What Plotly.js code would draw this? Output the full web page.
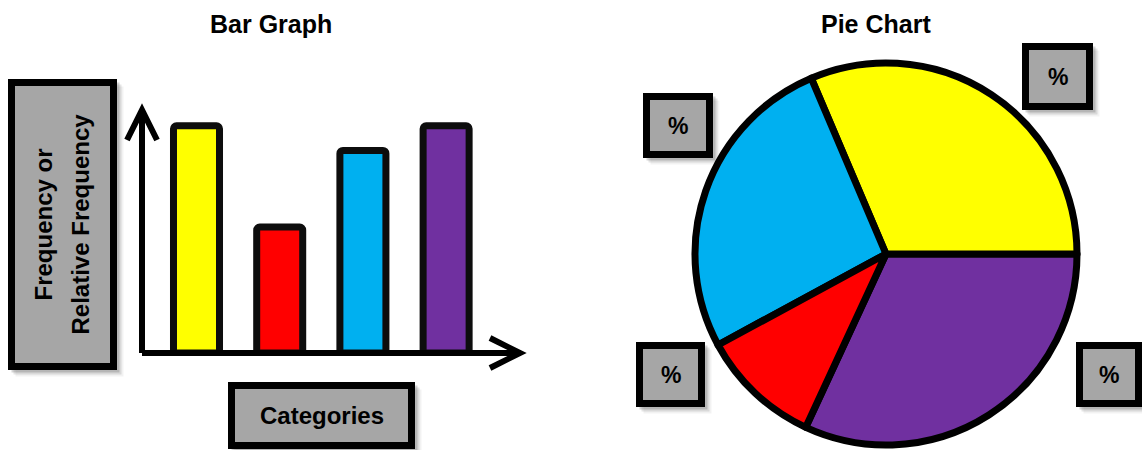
<!DOCTYPE html>
<html><head><meta charset="utf-8">
<script src="https://cdn.plot.ly/plotly-3.0.1.min.js"></script>
<style>html,body{margin:0;padding:0;background:#fff}#chart{width:1142px;height:450px}</style>
</head><body><div id="chart"></div>
<script>
// ---- data ----
const categories = ['Category 1', 'Category 2', 'Category 3', 'Category 4'];
const barValues = [9.2, 5.1, 8.2, 9.2];
const barColors = ['#FFFF00', '#FF0000', '#00B0F0', '#7030A0'];
// pie slices listed in drawing order (Plotly places the first slice so it ends at the rotation line)
const pieLabels = ['Category 4', 'Category 1', 'Category 3', 'Category 2'];
const pieValues = [31.9, 31.4, 26.5, 10.2];
const pieColors = ['#7030A0', '#FFFF00', '#00B0F0', '#FF0000'];
const panelTitles = ['Bar Graph', 'Pie Chart'];
const yLabelLines = ['Frequency or', 'Relative Frequency'];
const xLabelText = 'Categories';
const pctText = '%';

// ---- helpers (pixel -> paper) ----
const W = 1142, H = 450;
const px = x => x / W;
const py = y => 1 - y / H;

const titleFont = {family: 'Liberation Sans, Arial, sans-serif', size: 25, color: '#000', weight: 'bold'};
const labelFont = {family: 'Liberation Sans, Arial, sans-serif', size: 24, color: '#000', weight: 'bold'};

// boxes [x0,y0,x1,y1] in pixels (stroke centre)
const yBox = [11.5, 82.5, 113.5, 366.5];
const xBox = [231.5, 385.5, 411.5, 445.5];
const pctBoxes = [
  [646.5, 96.5, 709.5, 154.5],
  [1025.5, 46.5, 1089.5, 106.5],
  [639.5, 345.5, 701.5, 403.5],
  [1079.5, 345.5, 1138.5, 403.5]
];

const shapes = [];
function shadow(b) {
  [[3, 0.16], [5, 0.10], [7, 0.05]].forEach(([o, a]) => {
    shapes.push({type: 'rect', xref: 'paper', yref: 'paper', layer: 'below',
      x0: px(b[0] - 3 + o), x1: px(b[2] + 3 + o), y0: py(b[1] - 3 + o), y1: py(b[3] + 3 + o),
      fillcolor: 'rgba(0,0,0,' + a + ')', line: {width: 0}});
  });
}
function box(b) {
  shadow(b);
  shapes.push({type: 'rect', xref: 'paper', yref: 'paper', layer: 'above',
    x0: px(b[0]), x1: px(b[2]), y0: py(b[1]), y1: py(b[3]),
    fillcolor: '#A6A6A6', line: {color: '#000', width: 7}});
}
box(yBox); box(xBox); pctBoxes.forEach(box);

// axis arrows
const ax = {x0: 142, y0: 353, xTip: 520, yTip: 110};
shapes.push({type: 'path', xref: 'paper', yref: 'paper',
  path: `M${px(ax.x0)},${py(ax.y0)} L${px(ax.x0)},${py(ax.yTip)} M${px(ax.x0 - 15)},${py(ax.yTip + 30)} L${px(ax.x0)},${py(ax.yTip)} L${px(ax.x0 + 15)},${py(ax.yTip + 30)}`,
  line: {color: '#000', width: 6}});
shapes.push({type: 'path', xref: 'paper', yref: 'paper',
  path: `M${px(ax.x0)},${py(ax.y0)} L${px(ax.xTip)},${py(ax.y0)} M${px(ax.xTip - 30)},${py(ax.y0 - 15)} L${px(ax.xTip)},${py(ax.y0)} L${px(ax.xTip - 30)},${py(ax.y0 + 15)}`,
  line: {color: '#000', width: 6}});

const yMid = (yBox[1] + yBox[3]) / 2;
const annotations = [
  {text: panelTitles[0], x: px(271), y: py(24), font: titleFont},
  {text: panelTitles[1], x: px(876), y: py(24), font: titleFont},
  {text: yLabelLines[0], x: px(43), y: py(yMid), textangle: -90, font: labelFont},
  {text: yLabelLines[1], x: px(80), y: py(yMid), textangle: -90, font: labelFont},
  {text: xLabelText, x: px((xBox[0] + xBox[2]) / 2), y: py((xBox[1] + xBox[3]) / 2), font: labelFont}
].concat(pctBoxes.map(b => ({text: pctText, x: px((b[0] + b[2]) / 2), y: py((b[1] + b[3]) / 2), font: Object.assign({}, labelFont, {size: 23})})))
 .map(a => Object.assign({xref: 'paper', yref: 'paper', showarrow: false, xanchor: 'center', yanchor: 'middle'}, a));

const traces = [
  {type: 'bar', x: categories, y: barValues, width: 0.553,
   marker: {color: barColors, line: {color: '#0D0D0D', width: 7}, cornerradius: 3},
   hoverinfo: 'none', showlegend: false},
  {type: 'pie', values: pieValues, labels: pieLabels, sort: false,
   direction: 'counterclockwise', rotation: 90, textinfo: 'none', hoverinfo: 'none',
   marker: {colors: pieColors, line: {color: '#000', width: 7}},
   domain: {x: [px(695), px(1077)], y: [py(445), py(63)]}, showlegend: false}
];

const hiddenAxis = {showgrid: false, zeroline: false, showline: false, showticklabels: false, ticks: '', fixedrange: true};
const layout = {
  width: W, height: H, margin: {l: 0, r: 0, t: 0, b: 0},
  paper_bgcolor: '#fff', plot_bgcolor: 'rgba(0,0,0,0)',
  showlegend: false,
  xaxis: Object.assign({domain: [px(142), px(522)], range: [-0.655, 3.912], type: 'category'}, hiddenAxis),
  yaxis: Object.assign({domain: [py(353), py(106)], range: [0, 10]}, hiddenAxis),
  shapes: shapes,
  annotations: annotations
};
Plotly.newPlot('chart', traces, layout, {staticPlot: true, displayModeBar: false});
</script></body></html>
